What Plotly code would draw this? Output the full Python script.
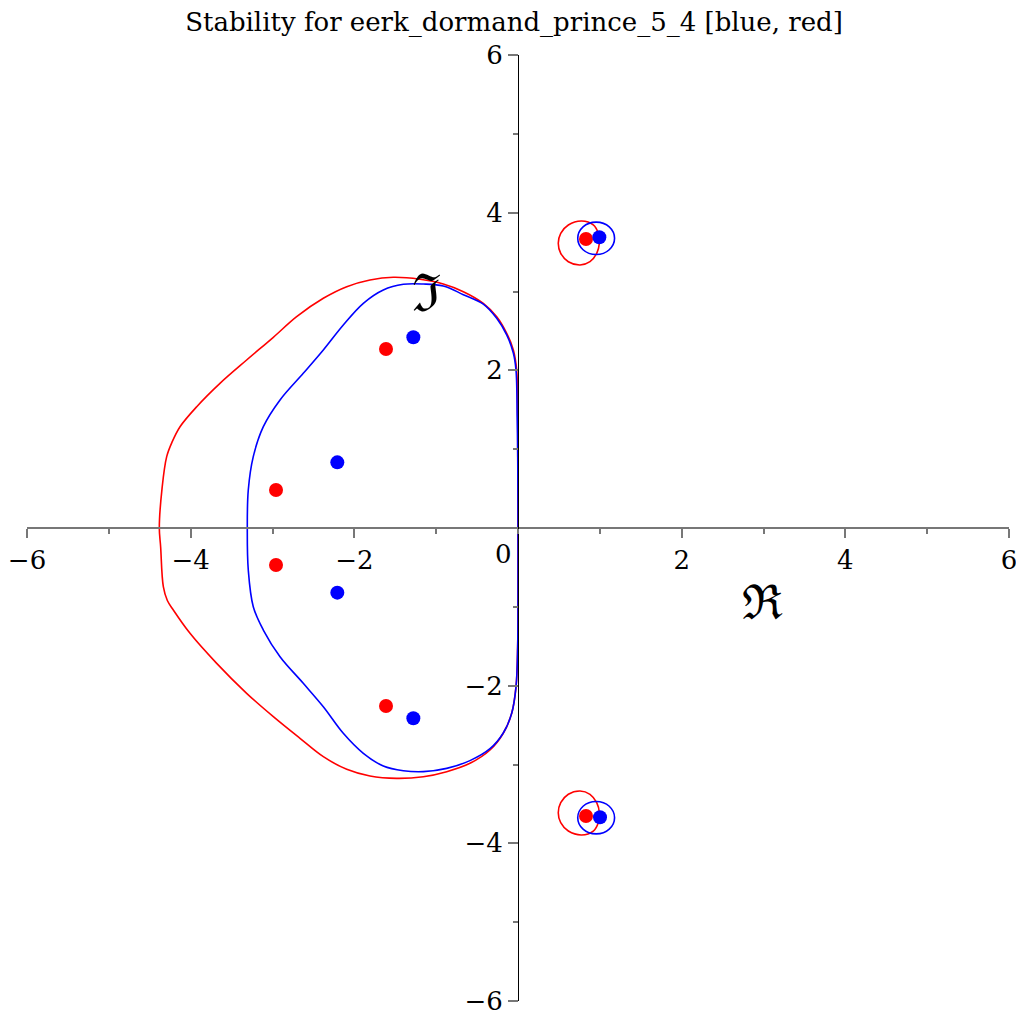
import plotly.graph_objects as go

# ---- data ----
# stability boundary, blue method (closed curve)
blue_re = [0.0, -0.003, -0.010, -0.024, -0.057, -0.138, -0.260, -0.424, -0.668, -0.913, -1.157, -1.401,
           -1.646, -1.890, -2.135, -2.379, -2.624, -2.908, -3.112, -3.235, -3.296, -3.308,
           -3.296, -3.235, -3.112, -2.908, -2.624, -2.379, -2.135, -1.890, -1.646, -1.401, -1.157,
           -0.871, -0.587, -0.342, -0.180, -0.077, -0.024, -0.004, 0.0, 0.0]
blue_im = [0.0, 0.90, 1.41, 2.00, 2.22, 2.45, 2.66, 2.84, 2.96, 3.07, 3.095, 3.091,
           3.019, 2.850, 2.575, 2.258, 1.962, 1.624, 1.285, 0.905, 0.482, 0.0,
           -0.533, -0.998, -1.294, -1.633, -1.970, -2.267, -2.604, -2.858, -3.019, -3.079, -3.091,
           -3.049, -2.951, -2.800, -2.600, -2.351, -2.013, -1.506, -0.900, 0.0]

# stability boundary, red method (closed curve)
red_re = [0.0, -0.003, -0.004, -0.016, -0.057, -0.138, -0.260, -0.424, -0.668, -0.913, -1.198, -1.524,
          -1.809, -2.093, -2.379, -2.705, -2.990, -3.316, -3.642, -3.926, -4.130, -4.225, -4.293, -4.350, -4.383,
          -4.367, -4.334, -4.285, -4.212, -4.008, -3.682, -3.316, -2.990, -2.664, -2.379, -2.093, -1.809,
          -1.483, -1.157, -0.871, -0.587, -0.342, -0.180, -0.077, -0.024, -0.004, 0.0, 0.0]
red_im = [0.0, 0.90, 1.41, 2.00, 2.258, 2.47, 2.68, 2.85, 2.998, 3.095, 3.155, 3.180,
          3.146, 3.061, 2.914, 2.681, 2.419, 2.131, 1.835, 1.539, 1.285, 1.095, 0.905, 0.500, 0.0,
          -0.237, -0.744, -0.920, -1.040, -1.336, -1.717, -2.097, -2.393, -2.668, -2.901, -3.061, -3.146,
          -3.176, -3.155, -3.091, -2.985, -2.816, -2.604, -2.351, -2.013, -1.506, -0.900, 0.0]

# small isolated loops near +-3.6i
red_loop_re = [0.778, 0.920, 0.981, 0.994, 0.962, 0.880, 0.758, 0.615, 0.522, 0.492, 0.522, 0.615, 0.778]
red_loop_up_im = [3.894, 3.844, 3.738, 3.612, 3.485, 3.378, 3.336, 3.378, 3.485, 3.612, 3.738, 3.844, 3.894]
red_loop_dn_im = [-3.894, -3.844, -3.738, -3.612, -3.485, -3.378, -3.336, -3.378, -3.485, -3.612, -3.738, -3.844, -3.894]

blue_loop_re = [0.955, 1.115, 1.180, 1.115, 0.955, 0.795, 0.730, 0.795, 0.955]
blue_loop_up_im = [3.880, 3.820, 3.675, 3.530, 3.470, 3.530, 3.675, 3.820, 3.880]
blue_loop_dn_im = [-3.880, -3.820, -3.675, -3.530, -3.470, -3.530, -3.675, -3.820, -3.880]

# roots (dots)
blue_root_re = [-1.279, -2.208, 0.994, -1.279, -2.208, 1.002]
blue_root_im = [2.419, 0.833, 3.688, -2.414, -0.820, -3.670]
red_root_re = [-1.613, -2.957, 0.831, -1.613, -2.957, 0.831]
red_root_im = [2.271, 0.482, 3.666, -2.258, -0.469, -3.653]

title_text = "Stability for eerk_dormand_prince_5_4 [blue, red]"
x_ticks = [-6, -4, -2, 2, 4, 6]
y_ticks = [-6, -4, -2, 0, 2, 4, 6]
y_ticktext = ["\u22126", "\u22124", "\u22122", "", "2", "4", "6"]
x_ticktext = ["\u22126", "\u22124", "\u22122", "2", "4", "6"]

FONT = "DejaVu Serif"
RED = "#ff0000"
BLUE = "#0000ff"

fig = go.Figure()

def curve(x, y, color):
    fig.add_trace(go.Scatter(x=x, y=y, mode="lines", line=dict(color=color, width=1.6, shape="spline", smoothing=1.0),
                             hoverinfo="skip", showlegend=False))

curve(red_re, red_im, RED)
curve(blue_re, blue_im, BLUE)
curve(red_loop_re, red_loop_up_im, RED)
curve(red_loop_re, red_loop_dn_im, RED)
curve(blue_loop_re, blue_loop_up_im, BLUE)
curve(blue_loop_re, blue_loop_dn_im, BLUE)

fig.add_trace(go.Scatter(x=red_root_re, y=red_root_im, mode="markers",
                         marker=dict(color=RED, size=14, line=dict(width=0)), showlegend=False))
fig.add_trace(go.Scatter(x=blue_root_re, y=blue_root_im, mode="markers",
                         marker=dict(color=BLUE, size=14, line=dict(width=0)), showlegend=False))

# the page has an 8px body margin, so the figure is offset by 8px in the window
fig.update_layout(
    width=1024, height=1024,
    margin=dict(l=19, r=23, t=47, b=31, autoexpand=False),
    paper_bgcolor="white", plot_bgcolor="white",
    font=dict(family=FONT, size=26, color="black"),
    title=dict(text=title_text, x=506 / 1024, xref="container", xanchor="center",
               y=1 - 14 / 1024, yref="container", yanchor="middle", automargin=False,
               font=dict(family=FONT, size=26, color="black")),
    showlegend=False,
)
fig.update_xaxes(range=[-6, 6], anchor="free", position=0.5, showgrid=False, zeroline=False,
                 automargin=False, ticklabeloverflow="allow",
                 showline=True, linecolor="#777777", linewidth=2,
                 ticks="outside", ticklen=9, tickwidth=1.5, tickcolor="#777777",
                 tickvals=x_ticks, ticktext=x_ticktext,
                 tickfont=dict(family=FONT, size=26),
                 minor=dict(dtick=1, tick0=0, ticks="outside", ticklen=5, tickwidth=1.5, tickcolor="#777777"))
fig.update_yaxes(range=[-6, 6], anchor="free", position=0.5, showgrid=False, zeroline=False,
                 automargin=False, ticklabeloverflow="allow",
                 showline=True, linecolor="black", linewidth=1,
                 ticks="outside", ticklen=10, tickwidth=2, tickcolor="#777777",
                 tickvals=y_ticks, ticktext=y_ticktext,
                 tickfont=dict(family=FONT, size=26),
                 minor=dict(dtick=1, tick0=0, ticks="outside", ticklen=5, tickwidth=1.5, tickcolor="#777777"))

fig.add_annotation(x=-0.18, y=-0.33, xref="x", yref="y", text="0", showarrow=False,
                   font=dict(family=FONT, size=26))
fig.add_annotation(x=2.99, y=-0.94, xref="x", yref="y", text="\u211c", showarrow=False,
                   font=dict(family=FONT, size=48))
fig.add_annotation(x=-1.12, y=2.98, xref="x", yref="y", text="\u2111", showarrow=False,
                   font=dict(family=FONT, size=52))

fig.write_html("out.html")
